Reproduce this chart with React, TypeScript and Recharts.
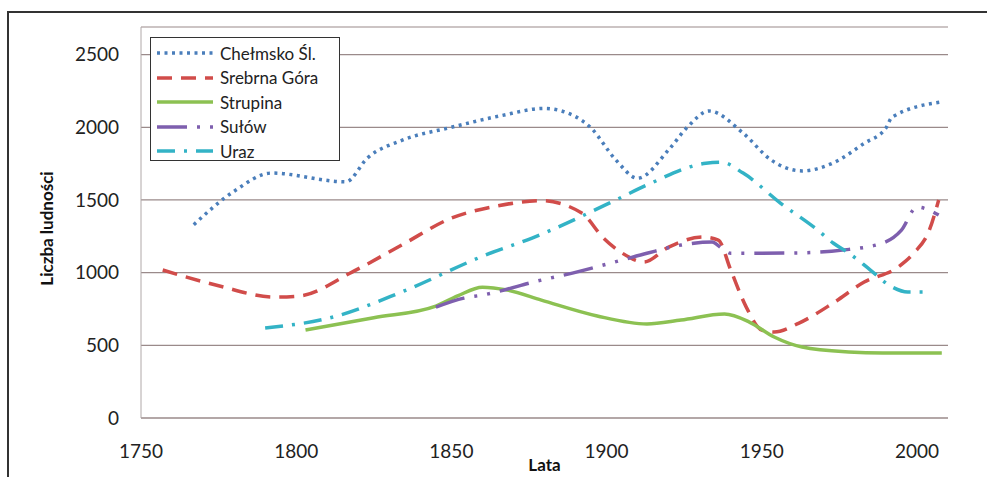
import React from 'react';
import { LineChart, Line, XAxis, YAxis, CartesianGrid } from 'recharts';

const years = [1750, 1800, 1850, 1900, 1950, 2000];
const populationTicks = [0, 500, 1000, 1500, 2000, 2500];

const chelmsko = [
  { year: 1767, value: 1330 }, { year: 1780, value: 1560 }, { year: 1792, value: 1685 },
  { year: 1816, value: 1625 }, { year: 1823, value: 1790 }, { year: 1834, value: 1910 },
  { year: 1850, value: 2000 }, { year: 1866, value: 2080 }, { year: 1880, value: 2130 },
  { year: 1885, value: 2115 }, { year: 1895, value: 1995 }, { year: 1903, value: 1775 },
  { year: 1910, value: 1650 }, { year: 1920, value: 1845 }, { year: 1926, value: 2000 },
  { year: 1933, value: 2112 }, { year: 1944, value: 1960 }, { year: 1953, value: 1775 },
  { year: 1963, value: 1700 }, { year: 1973, value: 1755 }, { year: 1983, value: 1890 },
  { year: 1990, value: 1995 }, { year: 1992, value: 2070 }, { year: 2008, value: 2175 },
];

const srebrnaGora = [
  { year: 1757, value: 1018 }, { year: 1775, value: 910 }, { year: 1793, value: 832 },
  { year: 1801, value: 839 }, { year: 1818, value: 1004 }, { year: 1834, value: 1190 },
  { year: 1850, value: 1375 }, { year: 1865, value: 1460 }, { year: 1879, value: 1495 },
  { year: 1892, value: 1410 }, { year: 1899, value: 1238 }, { year: 1905, value: 1135 },
  { year: 1912, value: 1073 }, { year: 1920, value: 1176 }, { year: 1931, value: 1245 },
  { year: 1936, value: 1224 }, { year: 1940, value: 1018 }, { year: 1945, value: 763 },
  { year: 1950, value: 605 }, { year: 1954, value: 591 }, { year: 1962, value: 653 },
  { year: 1973, value: 791 }, { year: 1983, value: 935 }, { year: 1994, value: 1039 },
  { year: 1999, value: 1135 }, { year: 2004, value: 1293 }, { year: 2007, value: 1500 },
];

const strupina = [
  { year: 1803, value: 605 }, { year: 1825, value: 690 }, { year: 1845, value: 770 },
  { year: 1852, value: 840 }, { year: 1860, value: 900 }, { year: 1868, value: 880 },
  { year: 1879, value: 811 }, { year: 1897, value: 702 }, { year: 1913, value: 647 },
  { year: 1924, value: 674 }, { year: 1938, value: 715 }, { year: 1946, value: 660 },
  { year: 1954, value: 557 }, { year: 1963, value: 488 }, { year: 1978, value: 454 },
  { year: 1989, value: 447 }, { year: 2008, value: 447 },
];

const sulow = [
  { year: 1845, value: 763 }, { year: 1854, value: 825 }, { year: 1860, value: 846 },
  { year: 1879, value: 949 }, { year: 1889, value: 997 }, { year: 1905, value: 1087 },
  { year: 1913, value: 1133 }, { year: 1924, value: 1190 }, { year: 1934, value: 1211 },
  { year: 1937, value: 1169 }, { year: 1940, value: 1133 }, { year: 1960, value: 1135 },
  { year: 1976, value: 1155 }, { year: 1989, value: 1204 }, { year: 1995, value: 1293 },
  { year: 2000, value: 1451 }, { year: 2007, value: 1396 },
];

const uraz = [
  { year: 1790, value: 619 }, { year: 1812, value: 695 }, { year: 1834, value: 867 },
  { year: 1861, value: 1121 }, { year: 1876, value: 1238 }, { year: 1903, value: 1500 },
  { year: 1913, value: 1603 }, { year: 1932, value: 1753 }, { year: 1937, value: 1760 },
  { year: 1944, value: 1685 }, { year: 1956, value: 1479 }, { year: 1968, value: 1293 },
  { year: 1973, value: 1204 }, { year: 1978, value: 1135 }, { year: 1985, value: 1018 },
  { year: 1992, value: 901 }, { year: 1997, value: 867 }, { year: 2004, value: 867 },
];

const series = [
  { name: 'Chełmsko Śl.', data: chelmsko, color: '#4a7ebb', dash: '3 4.5' },
  { name: 'Srebrna Góra', data: srebrnaGora, color: '#d14c4a', dash: '15 9' },
  { name: 'Strupina', data: strupina, color: '#8cc152', dash: undefined },
  { name: 'Sułów', data: sulow, color: '#7e5fae', dash: '30 10 3 10 3 10' },
  { name: 'Uraz', data: uraz, color: '#33b3c6', dash: '18 9 3 9' },
];

const FONT = 'Lato, "Open Sans", sans-serif';

// legend drawn as an overlay so it doesn't push the plot area down
const LegendBox = () => (
  <div
    style={{
      position: 'absolute',
      left: 150,
      top: 37,
      border: '1.5px solid #333',
      background: '#fff',
      width: 190,
      height: 124,
      padding: '3px 0 0 4px',
      fontFamily: FONT,
      fontSize: 17,
      color: '#222',
      boxSizing: 'border-box',
    }}
  >
    {series.map((s) => (
      <div key={s.name} style={{ display: 'flex', alignItems: 'center', height: 24.5 }}>
        <svg width={60} height={10} style={{ marginRight: 5 }}>
          <line x1={2} y1={5} x2={58} y2={5} stroke={s.color} strokeWidth={3.5} strokeDasharray={s.dash} />
        </svg>
        <span>{s.name}</span>
      </div>
    ))}
  </div>
);

export default function App() {
  return (
    <div style={{ position: 'fixed', left: 0, top: 0, width: 987, height: 477, background: '#fff', overflow: 'hidden' }}>
      <div
        style={{
          position: 'absolute',
          left: 7,
          top: 11,
          width: 1000,
          height: 500,
          borderTop: '2px solid #333',
          borderLeft: '2px solid #333',
        }}
      />
      <div style={{ position: 'absolute', left: 0, top: 0 }}>
        <LineChart width={987} height={477} margin={{ top: 27, right: 39, bottom: 0, left: 0 }}>
          <CartesianGrid horizontal vertical={false} stroke="#9a8a8a" strokeWidth={1.2} />
          <XAxis
            type="number"
            dataKey="year"
            domain={[1750, 2010]}
            ticks={years}
            allowDuplicatedCategory={false}
            height={59}
            axisLine={{ stroke: '#9a8a8a' }}
            tickLine={false}
            tickSize={0}
            tickMargin={27}
            tick={{ fontSize: 19, fill: '#222', fontFamily: FONT }}
            label={{ value: 'Lata', position: 'insideBottom', dx: 0, dy: -1, style: { fontSize: 17, fontWeight: 700, fill: '#111', fontFamily: FONT } }}
          />
          <YAxis
            type="number"
            domain={[0, 2690]}
            ticks={populationTicks}
            width={141}
            axisLine={{ stroke: '#b0a8a8' }}
            tickLine={false}
            tickSize={0}
            tickMargin={22}
            tick={{ fontSize: 19, fill: '#222', fontFamily: FONT }}
            label={{ value: 'Liczba ludności', angle: -90, position: 'insideLeft', dx: 42, dy: 6, style: { fontSize: 17, fontWeight: 700, fill: '#111', fontFamily: FONT, textAnchor: 'middle' } }}
          />
          {series.map((s) => (
            <Line
              key={s.name}
              name={s.name}
              data={s.data}
              dataKey="value"
              type="monotone"
              stroke={s.color}
              strokeWidth={3.5}
              strokeDasharray={s.dash}
              dot={false}
              activeDot={false}
              isAnimationActive={false}
            />
          ))}
        </LineChart>
      </div>
      <LegendBox />
    </div>
  );
}
